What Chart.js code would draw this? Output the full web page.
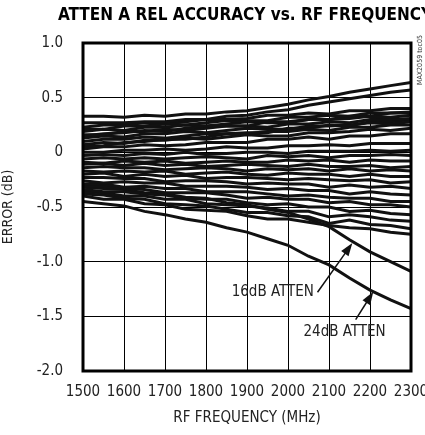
<!DOCTYPE html>
<html>
<head>
<meta charset="utf-8">
<script src="https://cdn.jsdelivr.net/npm/chart.js@4.4.1/dist/chart.umd.min.js"></script>
<style>
  html, body { margin: 0; padding: 0; background: #fff; }
</style>
</head>
<body>
<canvas id="acc" width="425" height="435"></canvas>
<script>
// RF frequency points (MHz)
var freqs = [1500, 1550, 1600, 1650, 1700, 1750, 1800, 1850, 1900, 1950, 2000, 2050, 2100, 2150, 2200, 2250, 2300];

// tick labels
var xTicks = [1500, 1600, 1700, 1800, 1900, 2000, 2100, 2200, 2300];
var xTickLabels = ['1500', '1600', '1700', '1800', '1900', '2000', '2100', '2200', '2300'];
var yTicks = [-2.0, -1.5, -1.0, -0.5, 0, 0.5, 1.0];
var yTickLabels = ['-2.0', '-1.5', '-1.0', '-0.5', '0', '0.5', '1.0'];

// relative error (dB), one array per attenuation state
var line01 = [0.33, 0.33, 0.32, 0.34, 0.33, 0.35, 0.35, 0.37, 0.38, 0.41, 0.44, 0.48, 0.51, 0.55, 0.58, 0.61, 0.64];
var line02 = [0.27, 0.27, 0.27, 0.28, 0.28, 0.30, 0.30, 0.33, 0.34, 0.37, 0.39, 0.43, 0.46, 0.49, 0.52, 0.55, 0.57];
var line03 = [0.23, 0.25, 0.25, 0.27, 0.26, 0.28, 0.30, 0.30, 0.31, 0.34, 0.34, 0.36, 0.35, 0.38, 0.38, 0.40, 0.40];
var line04 = [0.21, 0.21, 0.24, 0.24, 0.26, 0.25, 0.27, 0.29, 0.29, 0.29, 0.32, 0.32, 0.34, 0.33, 0.36, 0.36, 0.37];
var line05 = [0.19, 0.21, 0.20, 0.23, 0.23, 0.25, 0.24, 0.26, 0.28, 0.27, 0.27, 0.30, 0.30, 0.31, 0.33, 0.32, 0.34];
var line06 = [0.15, 0.17, 0.18, 0.20, 0.19, 0.22, 0.24, 0.24, 0.24, 0.28, 0.28, 0.30, 0.30, 0.33, 0.33, 0.36, 0.36];
var line07 = [0.16, 0.16, 0.19, 0.19, 0.21, 0.20, 0.22, 0.24, 0.24, 0.23, 0.26, 0.26, 0.28, 0.27, 0.30, 0.30, 0.31];
var line08 = [0.13, 0.15, 0.14, 0.17, 0.17, 0.19, 0.18, 0.20, 0.22, 0.21, 0.21, 0.24, 0.24, 0.25, 0.27, 0.26, 0.28];
var line09 = [0.10, 0.12, 0.12, 0.14, 0.13, 0.15, 0.17, 0.17, 0.17, 0.19, 0.19, 0.21, 0.20, 0.23, 0.23, 0.25, 0.25];
var line10 = [0.05, 0.06, 0.09, 0.10, 0.12, 0.12, 0.14, 0.17, 0.18, 0.18, 0.22, 0.22, 0.25, 0.24, 0.28, 0.28, 0.30];
var line11 = [0.07, 0.09, 0.08, 0.11, 0.11, 0.13, 0.12, 0.14, 0.16, 0.15, 0.15, 0.18, 0.18, 0.19, 0.21, 0.20, 0.22];
var line12 = [0.03, 0.05, 0.05, 0.07, 0.06, 0.07, 0.09, 0.09, 0.09, 0.12, 0.12, 0.14, 0.12, 0.15, 0.15, 0.17, 0.17];
var line13 = [0.00, 0.00, 0.02, 0.02, 0.03, 0.02, 0.03, 0.05, 0.04, 0.04, 0.06, 0.06, 0.07, 0.06, 0.08, 0.08, 0.08];
var line14 = [-0.03, -0.02, -0.03, -0.01, -0.02, 0.00, -0.02, -0.01, 0.00, 0.00, -0.01, 0.01, 0.01, 0.01, 0.02, 0.01, 0.02];
var line15 = [-0.06, -0.05, -0.06, -0.05, -0.06, -0.05, -0.04, -0.05, -0.06, -0.03, -0.04, -0.03, -0.05, -0.03, -0.03, -0.02, -0.03];
var line16 = [-0.09, -0.10, -0.08, -0.09, -0.08, -0.10, -0.09, -0.08, -0.09, -0.09, -0.07, -0.08, -0.07, -0.09, -0.07, -0.08, -0.08];
var line17 = [-0.11, -0.10, -0.12, -0.10, -0.12, -0.11, -0.13, -0.12, -0.11, -0.12, -0.13, -0.11, -0.13, -0.13, -0.12, -0.14, -0.13];
var line18 = [-0.14, -0.13, -0.14, -0.14, -0.16, -0.15, -0.14, -0.15, -0.17, -0.15, -0.16, -0.15, -0.17, -0.15, -0.17, -0.16, -0.17];
var line19 = [-0.17, -0.18, -0.17, -0.18, -0.17, -0.20, -0.19, -0.18, -0.20, -0.21, -0.19, -0.20, -0.20, -0.22, -0.20, -0.22, -0.22];
var line20 = [-0.20, -0.19, -0.22, -0.20, -0.22, -0.21, -0.24, -0.23, -0.23, -0.24, -0.25, -0.24, -0.25, -0.26, -0.25, -0.28, -0.27];
var line21 = [-0.23, -0.23, -0.24, -0.24, -0.27, -0.26, -0.26, -0.27, -0.29, -0.28, -0.29, -0.29, -0.32, -0.30, -0.32, -0.31, -0.33];
var line22 = [-0.26, -0.28, -0.27, -0.28, -0.28, -0.31, -0.31, -0.31, -0.32, -0.34, -0.33, -0.35, -0.35, -0.38, -0.36, -0.38, -0.39];
var line23 = [-0.29, -0.29, -0.32, -0.31, -0.33, -0.33, -0.36, -0.36, -0.36, -0.38, -0.40, -0.39, -0.41, -0.42, -0.42, -0.45, -0.45];
var line24 = [-0.31, -0.31, -0.33, -0.34, -0.37, -0.37, -0.37, -0.39, -0.42, -0.41, -0.43, -0.43, -0.46, -0.45, -0.48, -0.48, -0.50];
var line25 = [-0.34, -0.36, -0.36, -0.38, -0.39, -0.42, -0.43, -0.43, -0.46, -0.48, -0.47, -0.50, -0.50, -0.54, -0.53, -0.56, -0.57];
var line26 = [-0.36, -0.37, -0.40, -0.40, -0.43, -0.43, -0.47, -0.48, -0.49, -0.51, -0.54, -0.54, -0.59, -0.57, -0.59, -0.62, -0.63];
var line27 = [-0.38, -0.39, -0.42, -0.43, -0.47, -0.48, -0.49, -0.52, -0.55, -0.55, -0.58, -0.59, -0.65, -0.62, -0.66, -0.67, -0.70];
var line28 = [-0.40, -0.43, -0.43, -0.47, -0.48, -0.52, -0.53, -0.54, -0.58, -0.61, -0.61, -0.64, -0.67, -0.69, -0.70, -0.73, -0.75];
var atten16 = [-0.32, -0.33, -0.34, -0.37, -0.38, -0.41, -0.42, -0.46, -0.48, -0.52, -0.55, -0.61, -0.68, -0.80, -0.91, -1.00, -1.09];
var atten24 = [-0.45, -0.47, -0.49, -0.54, -0.57, -0.61, -0.64, -0.69, -0.73, -0.79, -0.85, -0.95, -1.03, -1.15, -1.26, -1.35, -1.43];

var allLines = [line01, line02, line03, line04, line05, line06, line07, line08, line09, line10,
    line11, line12, line13, line14, line15, line16, line17, line18, line19, line20,
    line21, line22, line23, line24, line25, line26, line27, line28, atten16, atten24];

var FONT = "'DejaVu Sans Condensed', 'Liberation Sans', sans-serif";

var datasets = allLines.map(function (vals) {
    return {
        data: freqs.map(function (f, i) { return { x: f, y: vals[i] }; }),
        borderColor: '#111',
        borderWidth: 3,
        pointRadius: 0,
        tension: 0,
        fill: false
    };
});

// title, frame, side tag and arrow callouts
var decor = {
    id: 'decor',
    afterDatasetsDraw: function (chart) {
        var c = chart.ctx, a = chart.chartArea;
        var xs = chart.scales.x, ys = chart.scales.y;
        c.save();
        c.strokeStyle = '#000';
        c.lineWidth = 3;
        c.strokeRect(a.left, a.top, a.right - a.left, a.bottom - a.top);

        c.fillStyle = '#000';
        c.font = "bold 17px " + FONT;
        c.textAlign = 'left';
        c.textBaseline = 'middle';
        c.fillText('ATTEN A REL ACCURACY vs. RF FREQUENCY', 58, 16);

        // side tag
        c.save();
        c.translate(420, 60);
        c.rotate(-Math.PI / 2);
        c.font = "7px " + FONT;
        c.fillStyle = '#333';
        c.textAlign = 'center';
        c.fillText('MAX2059 toc05', 0, 0);
        c.restore();

        function arrow(fx0, v0, fx1, v1) {
            var x0 = xs.getPixelForValue(fx0), y0 = ys.getPixelForValue(v0);
            var x1 = xs.getPixelForValue(fx1), y1 = ys.getPixelForValue(v1);
            var ang = Math.atan2(y1 - y0, x1 - x0);
            c.strokeStyle = '#111';
            c.lineWidth = 1.5;
            c.beginPath();
            c.moveTo(x0, y0);
            c.lineTo(x1 - 8 * Math.cos(ang), y1 - 8 * Math.sin(ang));
            c.stroke();
            c.beginPath();
            c.moveTo(x1, y1);
            c.lineTo(x1 - 13 * Math.cos(ang) + 4.5 * Math.sin(ang), y1 - 13 * Math.sin(ang) - 4.5 * Math.cos(ang));
            c.lineTo(x1 - 13 * Math.cos(ang) - 4.5 * Math.sin(ang), y1 - 13 * Math.sin(ang) + 4.5 * Math.cos(ang));
            c.closePath();
            c.fillStyle = '#111';
            c.fill();
        }
        arrow(2072, -1.28, 2157, -0.83);
        arrow(2165, -1.53, 2208, -1.275);

        c.font = "15px " + FONT;
        c.fillStyle = '#222';
        c.textBaseline = 'middle';
        c.textAlign = 'right';
        c.fillText('16dB ATTEN', xs.getPixelForValue(2063), ys.getPixelForValue(-1.28));
        c.textAlign = 'center';
        c.fillText('24dB ATTEN', xs.getPixelForValue(2138), ys.getPixelForValue(-1.64));
        c.restore();
    }
};

var ctx = document.getElementById('acc').getContext('2d');
var chart = new Chart(ctx, {
    type: 'line',
    data: { datasets: datasets },
    plugins: [decor],
    options: {
        responsive: false,
        animation: false,
        layout: { padding: { left: 0, top: 43, right: 14, bottom: 0 } },
        plugins: {
            legend: { display: false },
            tooltip: { enabled: false }
        },
        scales: {
            x: {
                type: 'linear',
                min: 1500,
                max: 2300,
                afterBuildTicks: function (s) { s.ticks = xTicks.map(function (v) { return { value: v }; }); },
                afterFit: function (s) { s.height = 64; s.paddingLeft = 0; s.paddingRight = 0; },
                ticks: {
                    autoSkip: false,
                    padding: 12,
                    maxRotation: 0,
                    color: '#222',
                    font: { family: FONT, size: 15 },
                    callback: function (v) { return xTickLabels[xTicks.indexOf(v)]; }
                },
                grid: { color: '#000', lineWidth: 1, drawTicks: false },
                border: { display: false },
                title: {
                    display: true,
                    text: 'RF FREQUENCY (MHz)',
                    color: '#222',
                    font: { family: FONT, size: 15 },
                    padding: { top: 0, bottom: 8 }
                }
            },
            y: {
                type: 'linear',
                min: -2,
                max: 1,
                afterBuildTicks: function (s) { s.ticks = yTicks.map(function (v) { return { value: v }; }); },
                afterFit: function (s) { s.width = 83; },
                ticks: {
                    autoSkip: false,
                    padding: 20,
                    color: '#222',
                    font: { family: FONT, size: 15 },
                    callback: function (v) { return yTickLabels[yTicks.indexOf(v)]; }
                },
                grid: { color: '#000', lineWidth: 1, drawTicks: false },
                border: { display: false },
                title: {
                    display: true,
                    text: 'ERROR (dB)',
                    color: '#222',
                    font: { family: FONT, size: 14 },
                    padding: { top: 0, bottom: 10 }
                }
            }
        }
    }
});
</script>
</body>
</html>
